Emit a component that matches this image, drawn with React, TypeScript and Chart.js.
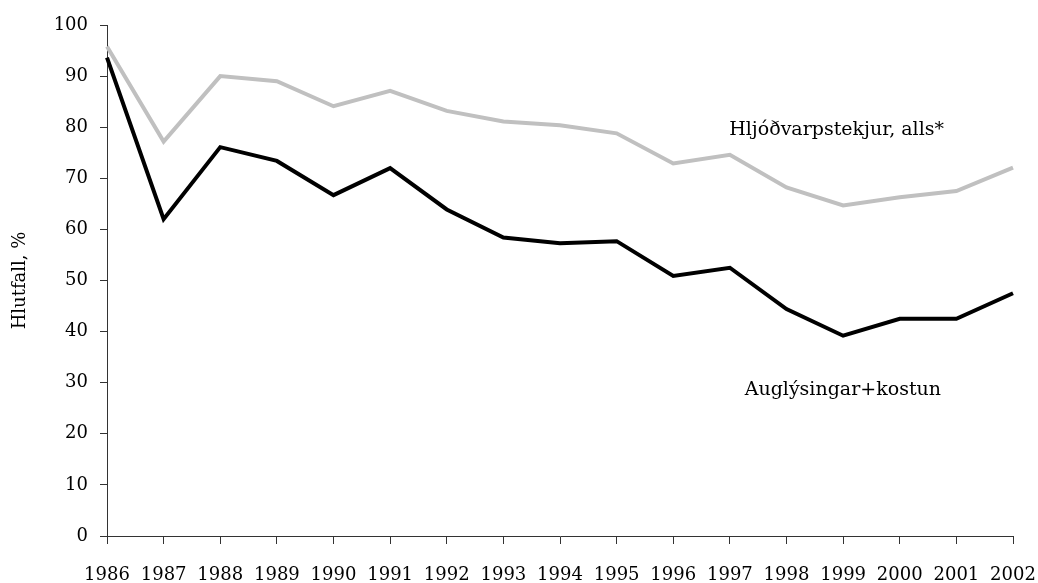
import React, { useEffect, useRef } from "react";
import { Chart, registerables } from "chart.js";

Chart.register(...registerables);

const years = ["1986","1987","1988","1989","1990","1991","1992","1993","1994","1995","1996","1997","1998","1999","2000","2001","2002"];
const totalRadio = [95.8,77.2,90.0,89.0,84.1,87.1,83.2,81.1,80.4,78.8,72.9,74.6,68.2,64.7,66.3,67.5,72.1];
const adsSponsor = [93.6,62.0,76.1,73.4,66.7,72.0,63.9,58.4,57.3,57.7,50.9,52.5,44.4,39.2,42.5,42.5,47.5];
const seriesNames = ["Hljóðvarpstekjur, alls*", "Auglýsingar+kostun"];
const yTitle = "Hlutfall, %";

const FONT = "'DejaVu Serif', serif";

const labelPlugin = {
  id: "seriesLabels",
  afterDatasetsDraw(chart: any) {
    const { ctx, scales } = chart;
    const x = scales.x;
    const y = scales.y;
    ctx.save();
    ctx.font = `19px ${FONT}`;
    ctx.fillStyle = "#000";
    ctx.textAlign = "center";
    ctx.textBaseline = "middle";
    ctx.fillText(seriesNames[0], x.getPixelForValue(12.885), y.getPixelForValue(79.4));
    ctx.fillText(seriesNames[1], x.getPixelForValue(12.995), y.getPixelForValue(28.6));
    ctx.restore();
  },
};

export default function App() {
  const ref = useRef<HTMLCanvasElement>(null);
  useEffect(() => {
    if (!ref.current) return;
    const chart = new Chart(ref.current, {
      type: "line",
      data: {
        labels: years,
        datasets: [
          { label: seriesNames[0], data: totalRadio, borderColor: "#c0c0c0", borderWidth: 4, pointRadius: 0, tension: 0 },
          { label: seriesNames[1], data: adsSponsor, borderColor: "#000000", borderWidth: 4, pointRadius: 0, tension: 0 },
        ],
      },
      options: {
        animation: false,
        responsive: false,
        devicePixelRatio: 1,
        layout: { padding: { left: 0, right: 25, top: 25, bottom: 0 } },
        plugins: { legend: { display: false }, tooltip: { enabled: false } },
        scales: {
          x: {
            offset: false,
            grid: { drawOnChartArea: false, drawTicks: true, tickLength: 8, color: "#333" },
            border: { display: true, color: "#333", width: 1 },
            ticks: { color: "#000", font: { family: FONT, size: 18 }, padding: 21, maxRotation: 0, autoSkip: false },
            afterFit: (s: any) => { s.height = 47; s.paddingLeft = 0; s.paddingRight = 0; },
          },
          y: {
            min: 0,
            max: 100,
            grid: { drawOnChartArea: false, drawTicks: true, tickLength: 7, color: "#333" },
            border: { display: true, color: "#333", width: 1 },
            ticks: { stepSize: 10, color: "#000", font: { family: FONT, size: 18 }, padding: 12 },
            title: { display: true, text: yTitle, color: "#000", font: { family: FONT, size: 18 }, padding: { top: 10, bottom: 8 } },
            afterFit: (s: any) => { s.width = 107; s.paddingTop = 0; s.paddingBottom = 0; },
          },
        },
      },
      plugins: [labelPlugin],
    });
    return () => chart.destroy();
  }, []);
  return (
    <div style={{ position: "fixed", left: 0, top: 0, width: 1038, height: 583, background: "#fff" }}>
      <canvas ref={ref} width={1038} height={583} style={{ display: "block" }} />
    </div>
  );
}
